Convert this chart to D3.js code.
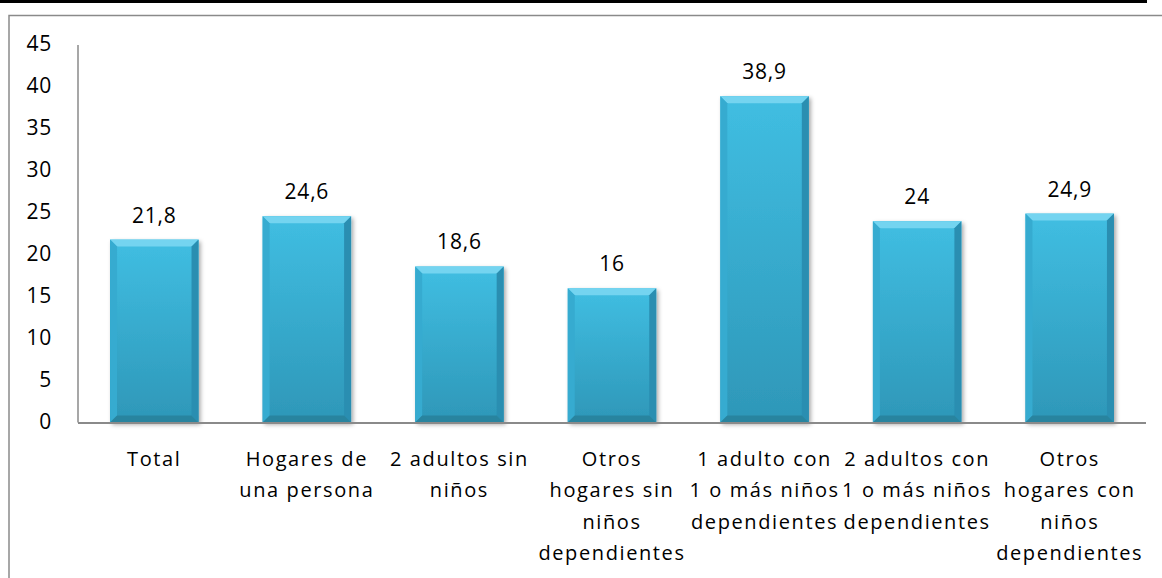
<!DOCTYPE html>
<html>
<head>
<meta charset="utf-8">
<style>
body { margin: 0; background: #fff; }
text { font-family: "Open Sans", sans-serif; fill: #000; }
</style>
</head>
<body>
<svg width="1162" height="578"></svg>
<script src="https://d3js.org/d3.v7.min.js"></script>
<script>
var categories = [
  ["Total"],
  ["Hogares de", "una persona"],
  ["2 adultos sin", "niños"],
  ["Otros", "hogares sin", "niños", "dependientes"],
  ["1 adulto con", "1 o más niños", "dependientes"],
  ["2 adultos con", "1 o más niños", "dependientes"],
  ["Otros", "hogares con", "niños", "dependientes"]
];
var values = [21.8, 24.6, 18.6, 16, 38.9, 24, 24.9];
var yTicks = [0, 5, 10, 15, 20, 25, 30, 35, 40, 45];

var svg = d3.select("svg"),
    width = +svg.attr("width"),
    height = +svg.attr("height");

var plotLeft = 78, plotRight = 1146, plotTop = 45, plotBottom = 422.5;

var x = d3.scaleBand()
    .domain(d3.range(values.length))
    .range([plotLeft, plotRight])
    .paddingInner(0.42)
    .paddingOuter(0.21);

var y = d3.scaleLinear()
    .domain([0, 45])
    .range([plotBottom, plotTop]);

var fmt = function(v) { return String(v).replace(".", ","); };

// frame
svg.append("line").attr("x1", 0).attr("x2", 1147).attr("y1", 1.5).attr("y2", 1.5)
    .attr("stroke", "#000").attr("stroke-width", 3);
svg.append("path").attr("d", "M9,578V15.5H1162")
    .attr("fill", "none").attr("stroke", "#8a8a8a").attr("stroke-width", 1.5);

var defs = svg.append("defs");
var grad = defs.append("linearGradient").attr("id", "body")
    .attr("x1", 0).attr("y1", 0).attr("x2", 0).attr("y2", 1);
grad.append("stop").attr("offset", "0%").attr("stop-color", "#40bee2");
grad.append("stop").attr("offset", "100%").attr("stop-color", "#2e97b8");

var sh = defs.append("filter").attr("id", "shadow")
    .attr("x", "-10%").attr("y", "-10%").attr("width", "130%").attr("height", "130%");
sh.append("feDropShadow").attr("dx", 2).attr("dy", 2).attr("stdDeviation", 2)
    .attr("flood-color", "#000").attr("flood-opacity", 0.35);

// y axis
svg.append("line").attr("x1", plotLeft).attr("x2", plotLeft).attr("y1", plotTop).attr("y2", plotBottom)
    .attr("stroke", "#8a8a8a").attr("stroke-width", 1.5);

svg.append("g").selectAll("text")
  .data(yTicks)
  .enter().append("text")
    .attr("x", 52)
    .attr("y", function(d) { return y(d) + 6; })
    .attr("text-anchor", "end")
    .attr("font-size", 21)
    .attr("letter-spacing", 0.8)
    .text(function(d) { return d; });

// bars
var b = 7;
var bars = svg.append("g").selectAll("g")
  .data(values)
  .enter().append("g")
    .attr("transform", function(d, i) { return "translate(" + x(i) + "," + y(d) + ")"; });

bars.append("rect")
    .attr("width", x.bandwidth())
    .attr("height", function(d) { return plotBottom - y(d); })
    .attr("fill", "url(#body)")
    .attr("filter", "url(#shadow)");

// bevel: top, left, right, bottom
bars.append("path")
    .attr("fill", "#74d4f0")
    .attr("d", function() { var w = x.bandwidth(); return "M0,0H" + w + "L" + (w - b) + "," + b + "H" + b + "Z"; });
bars.append("path")
    .attr("fill", "#36abd0")
    .attr("d", function(d) { var h = plotBottom - y(d); return "M0,0L" + b + "," + b + "V" + (h - b) + "L0," + h + "Z"; });
bars.append("path")
    .attr("fill", "#2a8eb1")
    .attr("d", function(d) { var w = x.bandwidth(), h = plotBottom - y(d); return "M" + w + ",0L" + (w - b) + "," + b + "V" + (h - b) + "L" + w + "," + h + "Z"; });
bars.append("path")
    .attr("fill", "#28849f")
    .attr("d", function(d) { var w = x.bandwidth(), h = plotBottom - y(d); return "M0," + h + "L" + b + "," + (h - b) + "H" + (w - b) + "L" + w + "," + h + "Z"; });

// value labels
svg.append("g").selectAll("text")
  .data(values)
  .enter().append("text")
    .attr("x", function(d, i) { return x(i) + x.bandwidth() / 2; })
    .attr("y", function(d) { return y(d) - 17; })
    .attr("text-anchor", "middle")
    .attr("font-size", 21)
    .attr("letter-spacing", 0.8)
    .text(fmt);

// x axis
svg.append("line").attr("x1", plotLeft).attr("x2", plotRight).attr("y1", plotBottom + 0.5).attr("y2", plotBottom + 0.5)
    .attr("stroke", "#8a8a8a").attr("stroke-width", 2);

var cat = svg.append("g").selectAll("text")
  .data(categories)
  .enter().append("text")
    .attr("text-anchor", "middle")
    .attr("font-size", 20)
    .attr("letter-spacing", 1.6);

cat.selectAll("tspan")
  .data(function(d, i) { return d.map(function(s) { return { s: s, i: i }; }); })
  .enter().append("tspan")
    .attr("x", function(d) { return x(d.i) + x.bandwidth() / 2; })
    .attr("y", function(d, j) { return 466 + j * 31.3; })
    .text(function(d) { return d.s; });
</script>
</body>
</html>
